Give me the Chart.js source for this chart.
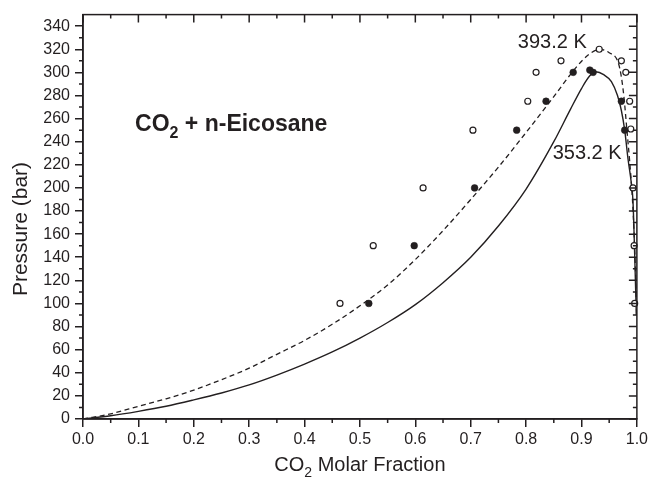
<!DOCTYPE html>
<html>
<head>
<meta charset="utf-8">
<script src="https://cdn.jsdelivr.net/npm/chart.js@4.4.1/dist/chart.umd.min.js"></script>
<style>
  html, body { margin: 0; padding: 0; background: #fff; }
  #wrap { width: 651px; height: 477px; }
</style>
</head>
<body>
<div id="wrap"><canvas id="chart" width="651" height="477"></canvas></div>
<script>
/* CO2 + n-Eicosane — P-x diagram (calculated curves + experimental points) */

// ─── Data ───
// calculated phase envelope, 353.2 K (solid line)
const calc353X = [0, 0.05, 0.1, 0.15, 0.2, 0.25, 0.3, 0.35, 0.4, 0.45, 0.5, 0.55, 0.6, 0.65, 0.7, 0.75, 0.8, 0.85, 0.88, 0.9, 0.915, 0.926, 0.94, 0.954, 0.965, 0.972, 0.978, 0.984, 0.99, 0.993, 0.996, 0.999];
const calc353P = [0, 2.8, 6.6, 11, 16.5, 22.5, 29.5, 38, 47.5, 58, 70, 83.5, 99, 118, 140, 167, 199, 240, 268, 286, 297, 300.5, 298, 292, 280, 267, 250, 225, 204, 188, 143, 90];

// calculated phase envelope, 393.2 K (dashed line)
const calc393X = [0, 0.05, 0.1, 0.15, 0.2, 0.25, 0.3, 0.35, 0.4, 0.45, 0.5, 0.55, 0.6, 0.65, 0.7, 0.75, 0.8, 0.85, 0.888, 0.912, 0.933, 0.95, 0.966, 0.972, 0.977, 0.982, 0.987, 0.992, 0.995, 0.998, 0.9995];
const calc393P = [0, 4.5, 11, 17.5, 25, 34, 44, 56, 68, 82, 98, 116, 138, 163, 190, 218, 248, 279, 303, 315, 320, 317, 309, 296, 277, 250, 223, 190, 160, 120, 90];

// experimental points, 353.2 K (filled circles)
const exp353X = [0.516, 0.598, 0.707, 0.783, 0.836, 0.885, 0.915, 0.921, 0.972, 0.978];
const exp353P = [100, 150, 200, 250, 275, 300, 302, 300, 275, 250];

// experimental points, 393.2 K (open circles)
const exp393X = [0.464, 0.524, 0.614, 0.704, 0.803, 0.818, 0.863, 0.932, 0.972, 0.980, 0.987, 0.989, 0.993, 0.995, 0.996];
const exp393P = [100, 150, 200, 250, 275, 300, 310, 320, 310, 300, 275, 251, 200, 150, 100];

// axes
const xTickVals = [0, 0.1, 0.2, 0.3, 0.4, 0.5, 0.6, 0.7, 0.8, 0.9, 1.0];
const yTickVals = [0, 20, 40, 60, 80, 100, 120, 140, 160, 180, 200, 220, 240, 260, 280, 300, 320, 340];
const xMin = 0, xMax = 1;
const yMin = 0, yMax = 350;

// ─── Style ───
const INK = '#231f20';
const FONT = '"Liberation Sans", Arial, Helvetica, sans-serif';

function pairs(xs, ys) {
    return xs.map((x, i) => ({ x: x, y: ys[i] }));
}

// text with subscripts: parts = [[text, isSub], ...]
function drawRich(ctx, parts, x, y, size, weight) {
    let cx = x;
    parts.forEach(([txt, sub]) => {
        const fs = sub ? Math.round(size * 0.68) : size;
        ctx.font = `${weight} ${fs}px ${FONT}`;
        ctx.fillText(txt, cx, sub ? y + size * 0.28 : y);
        cx += ctx.measureText(txt).width;
    });
}

function richWidth(ctx, parts, size, weight) {
    let w = 0;
    parts.forEach(([txt, sub]) => {
        const fs = sub ? Math.round(size * 0.68) : size;
        ctx.font = `${weight} ${fs}px ${FONT}`;
        w += ctx.measureText(txt).width;
    });
    return w;
}

// annotations placed in data coordinates
const notes = [
    { parts: [['CO', false], ['2', true], [' + n-Eicosane', false]], x: 0.094, y: 249, size: 23, weight: 'bold' },
    { parts: [['393.2 K', false]], x: 0.785, y: 321, size: 20, weight: 'normal' },
    { parts: [['353.2 K', false]], x: 0.848, y: 225, size: 20, weight: 'normal' },
];

// ─── Frame, minor ticks, titles, labels ───
const framePlugin = {
    id: 'frame',
    afterDraw(chart) {
        const ctx = chart.ctx;
        const a = chart.chartArea;
        const xs = chart.scales.x, ys = chart.scales.y;

        ctx.save();
        ctx.strokeStyle = INK;
        ctx.lineWidth = 1.5;
        ctx.strokeRect(a.left, a.top, a.right - a.left, a.bottom - a.top);

        ctx.beginPath();
        // x: minor outward at bottom, all inward at top
        for (let i = 0; i <= 20; i++) {
            const px = xs.getPixelForValue(i * 0.05);
            const major = i % 2 === 0;
            const len = major ? 8 : 4;
            if (!major) { ctx.moveTo(px, a.bottom); ctx.lineTo(px, a.bottom + len); }
            ctx.moveTo(px, a.top); ctx.lineTo(px, a.top + len);
        }
        // y: minor outward at left, all inward at right
        for (let v = 0; v <= 340; v += 10) {
            const py = ys.getPixelForValue(v);
            const major = v % 20 === 0;
            const len = major ? 8 : 4;
            if (!major) { ctx.moveTo(a.left, py); ctx.lineTo(a.left - len, py); }
            ctx.moveTo(a.right, py); ctx.lineTo(a.right - len, py);
        }
        ctx.stroke();

        ctx.fillStyle = INK;
        ctx.textBaseline = 'alphabetic';
        ctx.textAlign = 'left';

        // x title
        const xt = [['CO', false], ['2', true], [' Molar Fraction', false]];
        const xw = richWidth(ctx, xt, 20, 'normal');
        drawRich(ctx, xt, (a.left + a.right) / 2 - xw / 2, 471, 20, 'normal');

        // y title
        ctx.save();
        ctx.translate(27, 229);
        ctx.rotate(-Math.PI / 2);
        ctx.font = `normal 21px ${FONT}`;
        ctx.textAlign = 'center';
        ctx.fillText('Pressure (bar)', 0, 0);
        ctx.restore();

        // annotations
        notes.forEach(n => {
            drawRich(ctx, n.parts, xs.getPixelForValue(n.x), ys.getPixelForValue(n.y), n.size, n.weight);
        });
        ctx.restore();
    }
};

// ─── Chart ───
new Chart(document.getElementById('chart'), {
    type: 'scatter',
    data: {
        datasets: [
            {
                label: '353.2 K exp',
                data: pairs(exp353X, exp353P),
                pointRadius: 3.4,
                pointBackgroundColor: INK,
                pointBorderColor: INK,
                pointBorderWidth: 0.5,
                showLine: false,
                clip: 8,
            },
            {
                label: '393.2 K exp',
                data: pairs(exp393X, exp393P),
                pointRadius: 3,
                pointBackgroundColor: '#fff',
                pointBorderColor: INK,
                pointBorderWidth: 1.2,
                showLine: false,
                clip: 8,
            },
            {
                label: '353.2 K calc',
                data: pairs(calc353X, calc353P),
                showLine: true,
                borderColor: INK,
                borderWidth: 1.4,
                pointRadius: 0,
                cubicInterpolationMode: 'monotone',
            },
            {
                label: '393.2 K calc',
                data: pairs(calc393X, calc393P),
                showLine: true,
                borderColor: INK,
                borderWidth: 1.3,
                borderDash: [5, 3.5],
                pointRadius: 0,
                cubicInterpolationMode: 'monotone',
            },
        ]
    },
    options: {
        responsive: false,
        animation: false,
        events: [],
        layout: { padding: { left: 0, top: 14, right: 13, bottom: 0 } },
        plugins: {
            legend: { display: false },
            tooltip: { enabled: false },
        },
        scales: {
            x: {
                type: 'linear',
                min: xMin,
                max: xMax,
                border: { display: true, color: INK, width: 1.5 },
                grid: { drawOnChartArea: false, drawTicks: true, tickLength: 8, color: INK, tickColor: INK, lineWidth: 1.5 },
                ticks: {
                    color: INK,
                    padding: 3,
                    maxRotation: 0,
                    autoSkip: false,
                    font: { family: FONT, size: 16 },
                    callback: v => Number(v).toFixed(1),
                },
                afterBuildTicks: s => { s.ticks = xTickVals.map(v => ({ value: v })); },
                afterFit: s => { s.height = 58; },
            },
            y: {
                type: 'linear',
                min: yMin,
                max: yMax,
                border: { display: true, color: INK, width: 1.5 },
                grid: { drawOnChartArea: false, drawTicks: true, tickLength: 8, color: INK, tickColor: INK, lineWidth: 1.5 },
                ticks: {
                    color: INK,
                    padding: 5,
                    autoSkip: false,
                    font: { family: FONT, size: 16 },
                },
                afterBuildTicks: s => { s.ticks = yTickVals.map(v => ({ value: v })); },
                afterFit: s => { s.width = 83; },
            },
        }
    },
    plugins: [framePlugin]
});
</script>
</body>
</html>
